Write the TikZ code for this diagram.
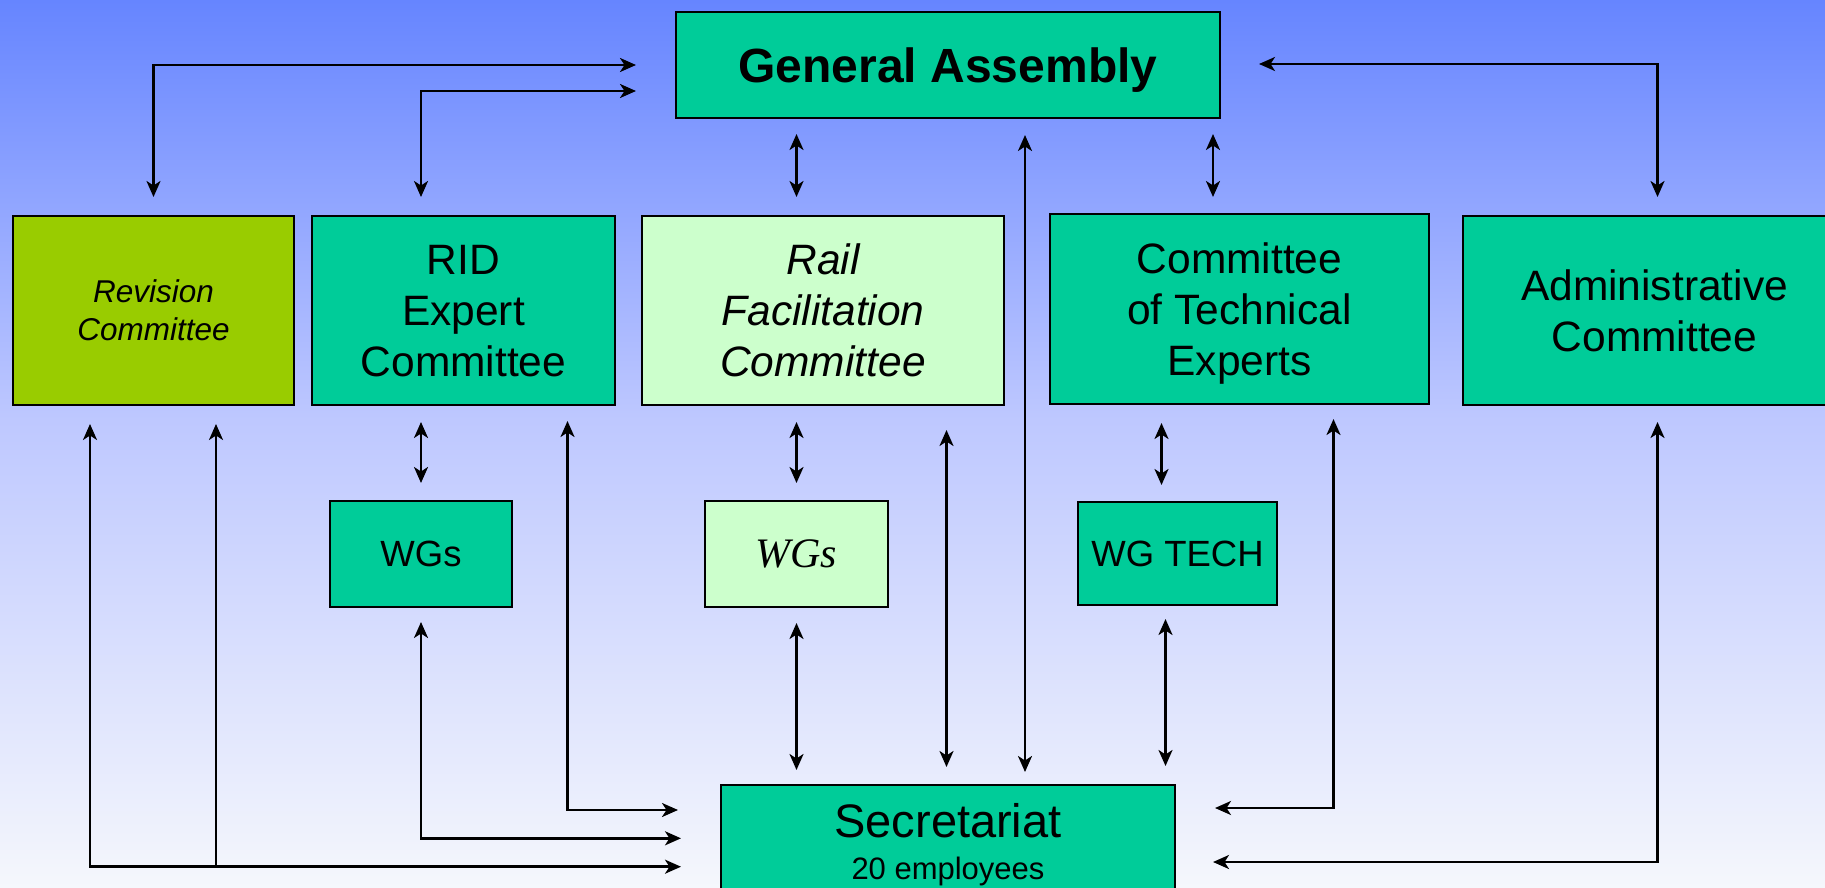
\documentclass[tikz,border=0pt]{standalone}
\usepackage{fontspec}
\setmainfont{Liberation Sans}
\newfontfamily\timesfont{Liberation Serif}
\usetikzlibrary{arrows.meta,calc}
\definecolor{bgtop}{RGB}{102,133,255}
\definecolor{bgmid}{RGB}{190,200,255}
\definecolor{bgbot}{RGB}{245,247,252}
\definecolor{boxgreen}{RGB}{0,204,153}
\definecolor{boxlime}{RGB}{153,204,0}
\definecolor{boxlight}{RGB}{204,255,204}
\pgfdeclareverticalshading{bgshade}{100bp}{color(0bp)=(bgbot); color(25bp)=(bgbot); color(51.35bp)=(bgmid); color(75bp)=(bgtop); color(100bp)=(bgtop)}
\tikzset{
  box/.style={draw=black, line width=2pt, inner sep=0pt, outer sep=0pt, align=center, text=black, text depth=0pt},
  big/.style={font={\fontsize{42.5}{51}\selectfont}},
  tip/.style={Stealth[length=16pt,width=14pt,inset=4.5pt]},
  dbl/.style={line width=2.5pt, {Stealth[length=16pt,width=14pt,inset=4.5pt]}-{Stealth[length=16pt,width=14pt,inset=4.5pt]}},
  sgl/.style={line width=2.5pt, -{Stealth[length=16pt,width=14pt,inset=4.5pt]}}
}
\begin{document}
\begin{tikzpicture}[x=1pt,y=-1pt]
\useasboundingbox (0,0) rectangle (1825,888);
\shade[shading=bgshade] (0,0) rectangle (1825,888);

% nodes
\node[box, fill=boxgreen, minimum width=544pt, minimum height=106pt, font={\fontsize{48}{58}\selectfont\bfseries}] (ga) at (948,65) {General Assembly};
\node[box, fill=boxlime, minimum width=281pt, minimum height=189pt, font={\fontsize{31.5}{38}\selectfont\itshape}] (rev) at (153.5,310.5) {Revision\\Committee};
\node[box, big, fill=boxgreen, minimum width=303pt, minimum height=189pt] (rid) at (463.5,310.5) {RID\\Expert\\Committee};
\node[box, big, fill=boxlight, minimum width=362pt, minimum height=189pt, font={\fontsize{42.5}{51}\selectfont\itshape}] (rail) at (823,310.5) {Rail\\Facilitation\\Committee};
\node[box, big, fill=boxgreen, minimum width=379pt, minimum height=190pt] (cte) at (1239.5,309) {Committee\\of Technical\\Experts};
\node[box, big, fill=boxgreen, minimum width=383pt, minimum height=189pt] (adm) at (1654.5,310.5) {Administrative\\Committee};
\node[box, fill=boxgreen, minimum width=182pt, minimum height=106pt, font={\fontsize{36.5}{44}\selectfont}] (wgd) at (421,554) {WGs};
\node[box, fill=boxlight, minimum width=183pt, minimum height=106pt, font={\fontsize{42}{50}\selectfont\timesfont\itshape}] (wgr) at (796.5,554) {WGs};
\node[box, fill=boxgreen, minimum width=199pt, minimum height=103pt, font={\fontsize{36.5}{44}\selectfont}] (wgt) at (1177.5,553.5) {WG TECH};
\node[box, fill=boxgreen, minimum width=454pt, minimum height=112pt, font={\fontsize{31}{42}\selectfont}] (sec) at (948,841) {{\fontsize{47}{42}\selectfont Secretariat}\\20 employees};

% connectors to General Assembly
\draw[dbl, shorten <=40pt, shorten >=19pt] (ga.west) -| (rev.north);
\draw[dbl, shorten <=40pt, shorten >=19pt] ([yshift=-26pt]ga.west) -| ([xshift=-42.5pt]rid.north);
\draw[dbl, shorten <=16pt, shorten >=19pt] (ga.south -| wgr.north) -- (rail.north -| wgr.north);
\draw[dbl, shorten <=39pt, shorten >=19pt] ([yshift=1pt]ga.east) -| ([xshift=3pt]adm.north);
\draw[dbl, shorten <=16pt, shorten >=17pt] ([xshift=265pt]ga.south) -- ([xshift=265pt]ga.south |- cte.north);
\draw[dbl, shorten <=17pt, shorten >=13pt] ([xshift=77pt]ga.south) -- ([xshift=77pt]ga.south |- sec.north);

% committees to working groups
\draw[dbl, shorten <=17pt, shorten >=18pt] (wgd.north |- rid.south) -- (wgd.north);
\draw[dbl, shorten <=17pt, shorten >=18pt] (wgr.north |- rail.south) -- (wgr.north);
\draw[dbl, shorten <=19pt, shorten >=17pt] ([xshift=-16pt]wgt.north |- cte.south) -- ([xshift=-16pt]wgt.north);

% to Secretariat
\draw[dbl, shorten <=25pt, shorten >=18pt] ([xshift=-1.5pt]sec.north |- rail.south) -- ([xshift=-1.5pt]sec.north);
\draw[dbl, shorten <=16pt, shorten >=15pt] (wgr.south) -- (wgr.south |- sec.north);
\draw[dbl, shorten <=14pt, shorten >=19pt] ([xshift=-12pt]wgt.south) -- ([xshift=-12pt]wgt.south |- sec.north);

\coordinate (revjoin) at ([yshift=-25.7pt]sec.west);
\draw[dbl, shorten <=40pt, shorten >=19pt] (revjoin) -| ([xshift=-63.5pt]rev.south);
\draw[sgl, shorten >=19pt] ([xshift=62.5pt]rev.south |- revjoin) -- ([xshift=62.5pt]rev.south);

\draw[dbl, shorten <=15pt, shorten >=40pt] (wgd.south) |- ([yshift=2.7pt]sec.west);
\draw[dbl, shorten <=16pt, shorten >=43pt] ([xshift=104pt]rid.south) |- ([yshift=31pt]sec.west);
\draw[dbl, shorten <=15pt, shorten >=40pt] ([xshift=94pt]cte.south) |- ([yshift=33pt]sec.east);
\draw[dbl, shorten <=17pt, shorten >=38pt] ([xshift=3pt]adm.south) |- ([yshift=-21pt]sec.east);
\end{tikzpicture}
\end{document}
